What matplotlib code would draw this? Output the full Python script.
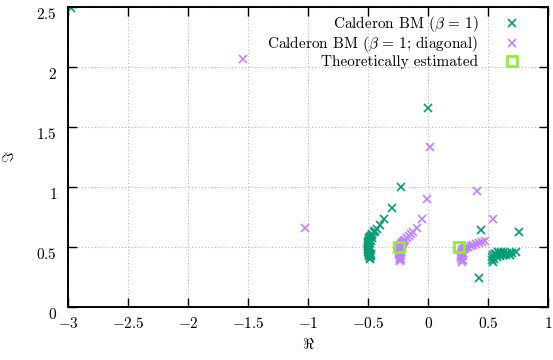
import matplotlib
matplotlib.use("Agg")
import matplotlib.pyplot as plt
import matplotlib.transforms as mtransforms
from matplotlib.ticker import FuncFormatter

plt.rcParams['font.family'] = 'serif'
plt.rcParams['font.serif'] = ['cmr10']
plt.rcParams['mathtext.fontset'] = 'cm'
plt.rcParams['axes.formatter.use_mathtext'] = True
plt.rcParams['font.size'] = 11

# Calderon BM (beta = 1)
bm_re = [-2.98, -0.005, -0.23, -0.305, -0.365, -0.40, -0.43,
         -0.445, -0.455, -0.465, -0.47, -0.478, -0.485, -0.49, -0.495,
         -0.498, -0.50, -0.503, -0.505, -0.505, -0.505, -0.505, -0.503,
         -0.50, -0.50, -0.498, -0.495, -0.493, -0.49, -0.488, -0.485,
         -0.49, -0.488, -0.485, -0.48, -0.475, -0.48, -0.47,
         0.436, 0.756, 0.423, 0.731, 0.681, 0.70,
         0.527, 0.531, 0.539, 0.556, 0.581, 0.606, 0.631, 0.656, 0.673,
         0.547, 0.572, 0.598, 0.623, 0.648, 0.539, 0.564, 0.589, 0.615]
bm_im = [2.49, 1.66, 1.0, 0.82, 0.73, 0.68, 0.65,
         0.635, 0.62, 0.61, 0.60, 0.59, 0.58, 0.57, 0.56,
         0.55, 0.54, 0.53, 0.52, 0.51, 0.50, 0.49, 0.48,
         0.47, 0.46, 0.45, 0.44, 0.43, 0.42, 0.41, 0.40,
         0.53, 0.50, 0.47, 0.44, 0.42, 0.55, 0.575,
         0.639, 0.62, 0.237, 0.458, 0.43, 0.445,
         0.389, 0.414, 0.431, 0.443, 0.452, 0.456, 0.456, 0.448, 0.439,
         0.397, 0.414, 0.423, 0.427, 0.431, 0.373, 0.439, 0.448, 0.44]

# Calderon BM (beta = 1; diagonal)
diag_re = [-1.54, -1.025, 0.012, -0.013, -0.05, -0.097, -0.125,
           -0.145, -0.16, -0.175, -0.19, -0.20, -0.21, -0.218, -0.225,
           -0.23, -0.234, -0.237, -0.239, -0.24, -0.24, -0.24, -0.24,
           -0.239, -0.238, -0.237, -0.236, -0.235, -0.233,
           -0.226, -0.225, -0.224, -0.22, -0.212,
           0.41, 0.54, 0.472,
           0.445, 0.42, 0.40, 0.375, 0.355, 0.335, 0.32, 0.305, 0.295,
           0.288, 0.282, 0.279, 0.277, 0.276, 0.276, 0.276, 0.276,
           0.277, 0.278, 0.289, 0.29, 0.29]
diag_im = [2.065, 0.66, 1.335, 0.897, 0.728, 0.66, 0.625,
           0.605, 0.59, 0.575, 0.56, 0.55, 0.54, 0.53, 0.52,
           0.51, 0.50, 0.49, 0.48, 0.47, 0.46, 0.45, 0.44,
           0.43, 0.42, 0.41, 0.40, 0.39, 0.38,
           0.46, 0.43, 0.40, 0.50, 0.52,
           0.965, 0.73, 0.55,
           0.54, 0.53, 0.52, 0.515, 0.505, 0.50, 0.495, 0.49, 0.485,
           0.48, 0.47, 0.46, 0.45, 0.44, 0.43, 0.42, 0.41,
           0.39, 0.375, 0.45, 0.42, 0.39]

# theoretically estimated eigenvalues
theo_re = [-0.245, 0.255]
theo_im = [0.5, 0.5]

xticks = [-3, -2.5, -2, -1.5, -1, -0.5, 0, 0.5, 1]
yticks = [0, 0.5, 1, 1.5, 2, 2.5]

fig = plt.figure(figsize=(5.53, 3.6), dpi=100)
ax = fig.add_axes([68.3 / 553, 53.3 / 360, 480 / 553, 300 / 360])

ax.plot(bm_re, bm_im, 'x', color='#009e73', ms=6, mew=1.2,
        label=r'Calderon BM ($\beta\,=\,1$)')
ax.plot(diag_re, diag_im, 'x', color='#c080ff', ms=6, mew=1.2,
        label=r'Calderon BM ($\beta\,=\,1$; diagonal)')
ax.plot(theo_re, theo_im, 's', mfc='none', mec='#8ff02a', ms=7.5, mew=2,
        label='Theoretically estimated')

ax.set_xlim(-3, 1)
ax.set_ylim(0, 2.5)
ax.set_xticks(xticks)
ax.set_yticks(yticks)
fmt = FuncFormatter(lambda v, _: f'${v:g}$')
ax.xaxis.set_major_formatter(fmt)
ax.yaxis.set_major_formatter(fmt)
ax.tick_params(direction='in', length=6.5, width=1, top=True, right=True,
               labelsize=11, pad=7)
ax.tick_params(axis='y', pad=8)
for s in ax.spines.values():
    s.set_linewidth(1.4)
ax.grid(True, color='#b8b8b8', linestyle=(0, (1, 2)), linewidth=0.8)
ax.set_axisbelow(True)

# gnuplot-like vertical placement of the y tick labels
shift = mtransforms.ScaledTranslation(0, -6 / 100, fig.dpi_scale_trans)
for lab in ax.get_yticklabels():
    lab.set_transform(lab.get_transform() + shift)

ax.set_xlabel(r'$\Re$', labelpad=4)
ax.set_ylabel(r'$\Im$', labelpad=14)

ax.legend(loc='upper right', bbox_to_anchor=(1 - 12 / 480, 1 + 8 / 300),
          frameon=False, markerfirst=False, handlelength=1.2,
          handletextpad=1.6, labelspacing=0.03, borderaxespad=0.6,
          fontsize=11)

fig.savefig('out.png', dpi=100)
